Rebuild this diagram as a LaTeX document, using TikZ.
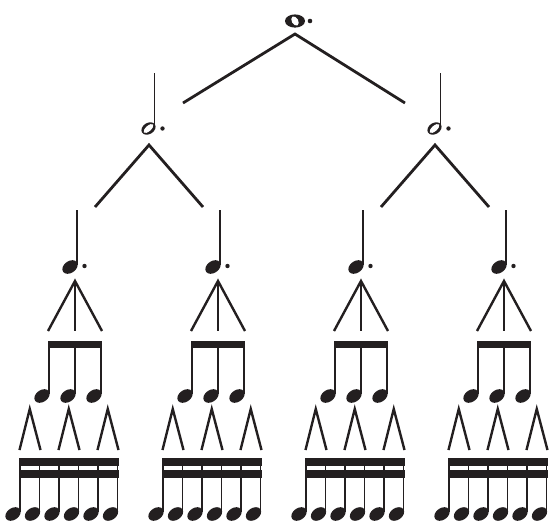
\documentclass[tikz,border=0pt]{standalone}
\definecolor{ink}{HTML}{231F20}
\tikzset{
  branch/.style={line width=2.8pt, draw=ink},
  fork/.style={line width=2.4pt, draw=ink},
  stemline/.style={line width=1.8pt, draw=ink},
  halfstem/.style={line width=1.5pt, draw=ink},
  beam/.style={fill=ink},
  notedot/.style={fill=ink},
  pics/fhead/.style={code={\fill[ink, rotate=35] (0,0) ellipse [x radius=8.4, y radius=5.9];}},
  pics/hhead/.style={code={
      \fill[ink, rotate=32] (0,0) ellipse [x radius=7.6, y radius=5.6];
      \fill[white, rotate=42] (0,0) ellipse [x radius=6.1, y radius=2.7];}},
  pics/whead/.style={code={
      \fill[ink] (0,0) ellipse [x radius=10, y radius=6.6];
      \fill[white, rotate=30] (0,0) ellipse [x radius=3.2, y radius=5];}},
}
\begin{document}
\begin{tikzpicture}[x=1pt,y=-1pt]
\useasboundingbox (0,0) rectangle (550,525);

% dotted whole note
\pic at (295,21) {whead};
\fill[notedot] (310,21) circle [radius=2.3];
\coordinate (wa) at (295,34);
\coordinate (wl) at (183,103);
\coordinate (wr) at (405,103);
\draw[branch] (wl) -- (wa) -- (wr);

% dotted half notes
\foreach \j [evaluate=\j as \h using 154.5+286*\j] in {0,1}{
  \draw[halfstem] (\h,126) -- (\h,73);
  \pic at (\h-6,128.5) {hhead};
  \fill[notedot] (\h+8,128.5) circle [radius=2.2];
  \coordinate (ha\j) at (\h-5.5,145);
  \coordinate (hl\j) at (\h-59.5,207);
  \coordinate (hr\j) at (\h+48.5,207);
  \draw[branch] (hl\j) -- (ha\j) -- (hr\j);
}

% dotted quarter notes and their subdivisions
\foreach \k [evaluate=\k as \s using 77+143*\k] in {0,...,3}{
  \draw[stemline] (\s,265) -- (\s,210);
  \pic at (\s-7,267) {fhead};
  \fill[notedot] (\s+7.5,266) circle [radius=2.2];
  \coordinate (qa\k) at (\s-2,281);
  \coordinate (ql\k) at (\s-29,331);
  \coordinate (qm\k) at (\s-2,331);
  \coordinate (qr\k) at (\s+25,331);
  \draw[fork] (ql\k) -- (qa\k) -- (qr\k);
  \draw[fork] (qa\k) -- (qm\k);
  % beamed eighths
  \fill[beam] (\s-29.5,341) rectangle (\s+25,348);
  \foreach \e in {-28,-2,24}{
    \draw[stemline] (\s+\e,341) -- (\s+\e,394);
    \pic at (\s+\e-7,396) {fhead};
  }
  % sixteenth forks
  \foreach \m in {0,1,2}{
    \coordinate (sa\k\m) at (\s-47.25+39*\m,409);
    \coordinate (sl\k\m) at (\s-57.5+39*\m,450);
    \coordinate (sr\k\m) at (\s-36.5+39*\m,450);
    \draw[fork] (sl\k\m) -- (sa\k\m) -- (sr\k\m);
  }
  % beamed sixteenths
  \fill[beam] (\s-58,458) rectangle (\s+41.5,466);
  \fill[beam] (\s-58,470) rectangle (\s+41.5,478);
  \foreach \i in {0,...,5}{
    \draw[stemline] (\s-57+19.5*\i,458) -- (\s-57+19.5*\i,512);
    \pic at (\s-64+19.5*\i,514) {fhead};
  }
}
\end{tikzpicture}
\end{document}
